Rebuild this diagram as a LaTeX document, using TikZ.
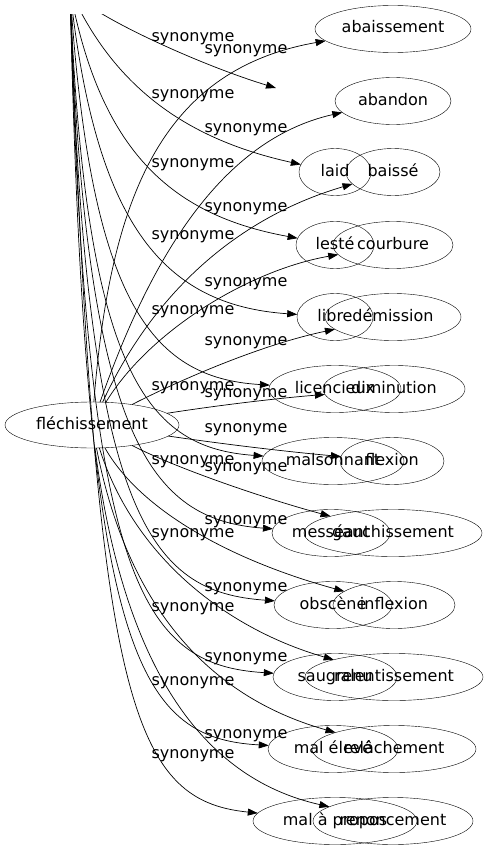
\documentclass[tikz,border=0pt]{standalone}
\usepackage{fontspec}
\setmainfont{DejaVu Sans}
\usetikzlibrary{shapes.geometric,arrows.meta}
\tikzset{
    term/.style     = {draw, ellipse, minimum height=47pt,
                      inner sep=0pt, outer sep=0pt,
                      text height=11.5pt, text depth=3.5pt,
                      font=\fontsize{16}{19}\selectfont},
    rellabel/.style = {inner sep=0pt, text height=11.5pt, text depth=3.5pt,
                      font=\fontsize{16}{19}\selectfont},
    link/.style     = {-{Triangle[length=10pt,width=7pt]}, line width=0.7pt},
  }

\begin{document}
\begin{tikzpicture}[x=1pt,y=-1pt]
    \useasboundingbox (0,0) rectangle (489,851);

    % the source word
    \node[term, minimum width=174pt, minimum height=46pt] (flech) at (92,425) {fléchissement};

    % right column: one synonym per row
    \foreach \nm/\txt/\x/\y/\w in {
        abaissement/abaissement/393/29/156,
        abandon/abandon/393/101/116,
        baisse/baissé/393/172/94,
        courbure/courbure/393/245/120,
        demission/démission/393/317/136,
        diminution/diminution/394/389/142,
        flexion/flexion/392/461/104,
        gauchissement/gauchissement/393/533/178,
        inflexion/inflexion/394/605/122,
        ralentissement/ralentissement/394/677/178,
        relachement/relâchement/394/749/164,
        renoncement/renoncement/393/821/160} {
        \node[term, minimum width=\w pt] (\nm) at (\x,\y) {\txt};
    }

    % left column: the words of the other sheet
    \foreach \nm/\txt/\x/\y/\w in {
        laid/laid/335/172/72,
        leste/lesté/335/245/78,
        libre/libre/335/317/76,
        licencieux/licencieux/335/389/132,
        malsonnant/malsonnant/333/461/142,
        messeant/messéant/331/533/118,
        obscene/obscène/333/605/118,
        saugrenu/saugrenu/335/677/124,
        malEleve/mal élevé/333/749/130,
        malPropos/mal à propos/335/821/164} {
        \node[term, minimum width=\w pt] (\nm) at (\x,\y) {\txt};
    }

    % edges out of fléchissement
    \foreach \tgt/\ax/\ay/\bx/\by in {
        abaissement/110/200/160/70,
        abandon/150/260/220/140,
        baisse/150/300/230/220,
        courbure/150/330/250/270,
        demission/180/380/260/345,
        diminution/220/405/280/398,
        flexion/230/445/290/452,
        gauchissement/180/470/270/500,
        inflexion/140/510/230/560,
        ralentissement/135/560/230/630,
        relachement/130/620/220/700,
        renoncement/125/680/210/780} {
        \draw[link] (flech) .. controls (\ax,\ay) and (\bx,\by) .. (\tgt);
    }

    % edges coming down from the cut-off top
    \begin{scope}
        \clip (0,15) rectangle (489,851);
        \coordinate (up) at (70,-10);
        \coordinate (gap) at (276,88);
        \foreach \tgt/\ax/\ay/\bx/\by in {
            gap/90/15/200/65,
            laid/115/90/190/140,
            leste/100/150/170/215,
            libre/95/220/160/305,
            licencieux/90/300/150/378,
            malsonnant/85/380/150/448,
            messeant/85/440/150/520,
            obscene/85/520/150/592,
            saugrenu/85/580/140/665,
            malEleve/85/650/135/738,
            malPropos/95/700/130/800} {
            \draw[link] (up) .. controls (\ax,\ay) and (\bx,\by) .. (\tgt);
        }
    \end{scope}

    % edge labels
    \foreach \y [count=\i] in {50,128,207,282,341,393,428,467,520,587,657,734} {
        \node[rellabel] (la\i) at (246,\y) {synonyme};
    }
    \foreach \y [count=\i] in {38,94,163,235,310,386,460,533,607,681,754} {
        \node[rellabel] (lb\i) at (193,\y) {synonyme};
    }
\end{tikzpicture}
\end{document}
